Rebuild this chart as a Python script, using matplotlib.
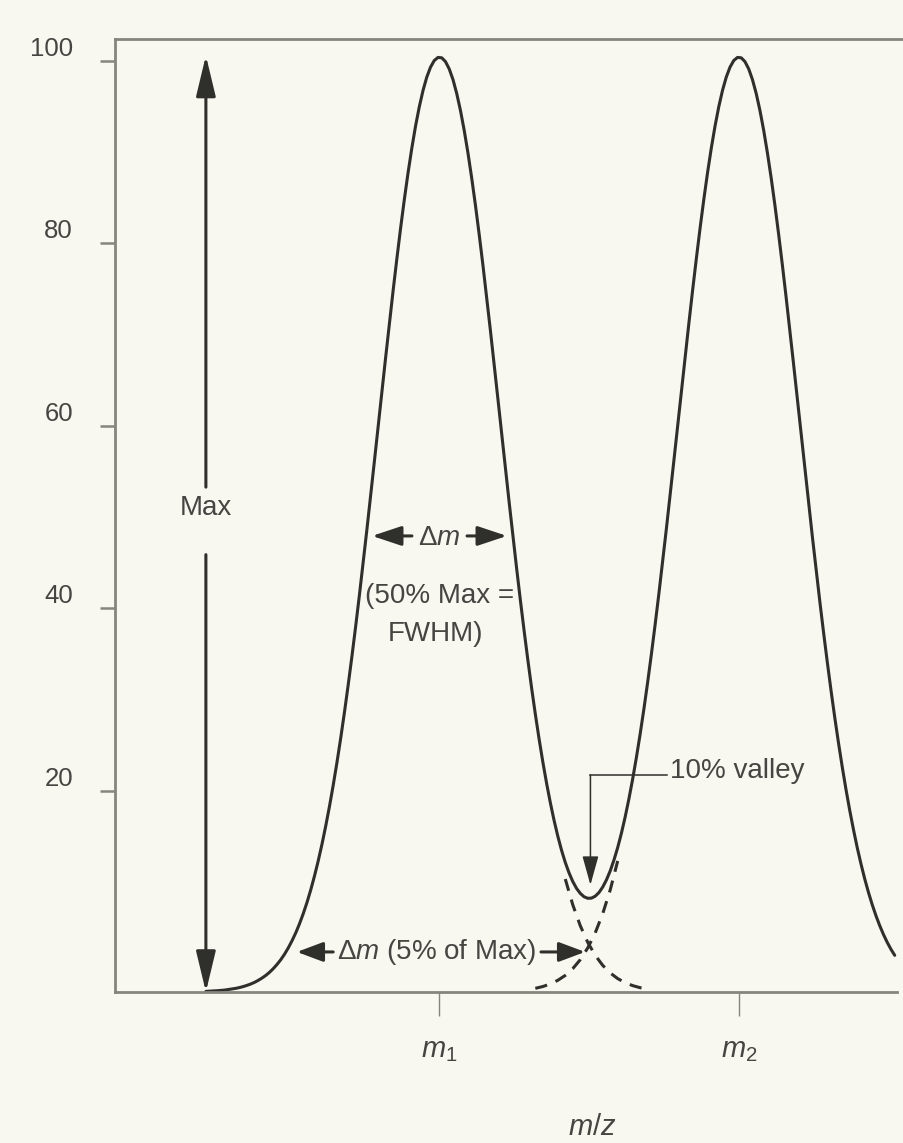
import numpy as np
import matplotlib
matplotlib.use('Agg')
import matplotlib.pyplot as plt

BG = '#f8f7f0'
INK = '#2f2f2c'
TXT = '#454542'
SPINE = '#85857f'
plt.rcParams['font.family'] = ['Liberation Sans', 'DejaVu Sans']
plt.rcParams['mathtext.fontset'] = 'custom'
plt.rcParams['mathtext.rm'] = 'Liberation Sans'
plt.rcParams['mathtext.it'] = 'Liberation Sans:italic'

# ---- data ----
# m/z sample positions of the measured profile (m1 = 10, m2 = 20)
mz = np.linspace(2.2, 25.2, 185)
intensity = [
    -1.96, -1.94, -1.92, -1.89, -1.86, -1.82, -1.76, -1.70, -1.63, -1.54,
    -1.43, -1.30, -1.15, -0.97, -0.75, -0.50, -0.21, 0.13, 0.53, 0.99,
    1.51, 2.11, 2.80, 3.58, 4.45, 5.44, 6.55, 7.78, 9.15, 10.67,
    12.33, 14.15, 16.14, 18.29, 20.61, 23.10, 25.76, 28.59, 31.59, 34.73,
    38.02, 41.44, 44.98, 48.62, 52.33, 56.10, 59.90, 63.69, 67.46, 71.17,
    74.80, 78.29, 81.65, 84.80, 87.74, 90.43, 92.86, 94.97,
    96.77, 98.23, 99.32, 100.05, 100.39, 100.35, 99.93, 99.13, 97.97, 96.44,
    94.58, 92.40, 89.93, 87.18, 84.20, 81.00, 77.63, 74.10, 70.47, 66.75,
    62.98, 59.19, 55.41, 51.67, 48.00, 44.41, 40.92, 37.57, 34.36, 31.30,
    28.42, 25.71, 23.19, 20.86, 18.73, 16.79, 15.05, 13.51, 12.17, 11.03,
    10.08, 9.33, 8.78, 8.41, 8.24, 8.26, 8.47, 8.87, 9.47, 10.26,
    11.24, 12.43, 13.80, 15.38, 17.16, 19.14, 21.31, 23.68, 26.24, 28.98,
    31.90, 34.99, 38.23, 41.61, 45.12, 48.72, 52.42, 56.17, 59.95, 63.74,
    67.50, 71.20, 74.82, 78.31, 81.66, 84.81, 87.75, 90.44, 92.86, 94.98,
    96.78, 98.23, 99.32, 100.05, 100.39, 100.35, 99.93, 99.13, 97.96, 96.44,
    94.58, 92.40, 89.92, 87.18, 84.19, 80.99, 77.61, 74.08, 70.44, 66.71,
    62.94, 59.14, 55.34, 51.58, 47.88, 44.27, 40.75, 37.35, 34.09, 30.97,
    28.01, 25.22, 22.59, 20.13, 17.84, 15.73, 13.77, 11.99, 10.35, 8.87,
    7.53, 6.32, 5.24, 4.27, 3.41, 2.65, 1.99,
]
# dashed continuation of peak m1 below the valley
peak1_tail_mz = [14.2, 14.45, 14.7, 14.95, 15.2, 15.45, 15.7, 15.95, 16.2, 16.45, 16.7, 16.95]
peak1_tail = [10.35, 7.53, 5.24, 3.41, 1.99, 0.89, 0.06, -0.56, -1.01, -1.33, -1.56, -1.72]
# dashed continuation of peak m2 below the valley
peak2_tail_mz = [13.2, 13.45, 13.7, 13.95, 14.2, 14.45, 14.7, 14.95, 15.2, 15.45, 15.7, 15.95]
peak2_tail = [-1.63, -1.43, -1.15, -0.75, -0.21, 0.53, 1.51, 2.80, 4.45, 6.55, 9.15, 12.33]

ytick_vals = [20, 40, 60, 80, 100]
ytick_labels = ['20', '40', '60', '80', '100']
xtick_vals = [10, 20]
xtick_labels = ['$m_1$', '$m_2$']

# ---- figure ----
fig = plt.figure(figsize=(9.04, 11.43), dpi=100, facecolor=BG)
ax = fig.add_axes([115/904, 1-992/1143, (904-115)/904, (992-39)/1143])
ax.set_facecolor(BG)
ax.plot(mz, intensity, color=INK, lw=2.2, solid_joinstyle='round', solid_capstyle='round')
ax.plot(peak1_tail_mz, peak1_tail, color=INK, lw=2.2, ls=(0, (4, 3)))
ax.plot(peak2_tail_mz, peak2_tail, color=INK, lw=2.2, ls=(0, (4, 3)))
ax.set_xlim(-0.835, 25.51)
ax.set_ylim(-2.03, 102.41)

for s in ['left', 'top', 'bottom']:
    ax.spines[s].set_color(SPINE)
    ax.spines[s].set_linewidth(2)
ax.spines['right'].set_visible(False)
ax.spines['bottom'].set_bounds(-0.835, 25.28)

ax.set_yticks(ytick_vals, ytick_labels)
ax.tick_params(axis='y', direction='out', length=10.8, width=1.8, color=SPINE,
               pad=19.4, labelsize=18.5, labelcolor=TXT)
for lab in ax.get_yticklabels():
    lab.set_verticalalignment('bottom')
ax.set_xticks(xtick_vals, xtick_labels)
ax.tick_params(axis='x', direction='out', length=17, width=1.0, color=SPINE,
               pad=15, labelsize=21, labelcolor=TXT)
ax.set_xlabel('$m/z$', fontsize=21, color=TXT, va='center')
ax.xaxis.set_label_coords((592-115)/789, (992-1127)/953)


def arrow(tail, tip, lw=2.2, hl=25, hw=6):
    ax.annotate('', xy=tip, xytext=tail,
                arrowprops=dict(arrowstyle=f'-|>,head_length={hl},head_width={hw}',
                                mutation_scale=1, color=INK, lw=lw,
                                shrinkA=0, shrinkB=0))


# Max arrow
arrow((2.2, 53.3), (2.2, 100.6), hl=25, hw=6)
arrow((2.2, 45.9), (2.2, -2.03), hl=25, hw=6)
ax.text(2.2, 51.0, 'Max', ha='center', va='center', fontsize=20, color=TXT)

# FWHM arrow
arrow((9.08, 47.95), (7.75, 47.95), hl=18, hw=6)
arrow((10.92, 47.95), (12.25, 47.95), hl=18, hw=6)
ax.text(10.0, 47.7, r'$\Delta m$', ha='center', va='center', fontsize=20, color=TXT)
ax.text(10.0, 41.4, '(50% Max =', ha='center', va='center', fontsize=20, color=TXT)
ax.text(9.85, 37.2, 'FWHM)', ha='center', va='center', fontsize=20, color=TXT)

# 10% valley
ax.plot([17.60, 15.04], [21.75, 21.75], color=INK, lw=1.1)
arrow((15.04, 21.75), (15.04, 9.7), lw=1.1, hl=18, hw=5)
ax.text(17.70, 22.2, '10% valley', ha='left', va='center', fontsize=20, color=TXT)

# 5% arrow
arrow((6.45, 2.36), (5.24, 2.36), hl=16, hw=6)
arrow((13.39, 2.36), (14.86, 2.36), hl=16, hw=6)
ax.text(9.9, 2.36, r'$\Delta m$ (5% of Max)', ha='center', va='center', fontsize=20, color=TXT)

fig.savefig('out.png', dpi=100, facecolor=BG)
